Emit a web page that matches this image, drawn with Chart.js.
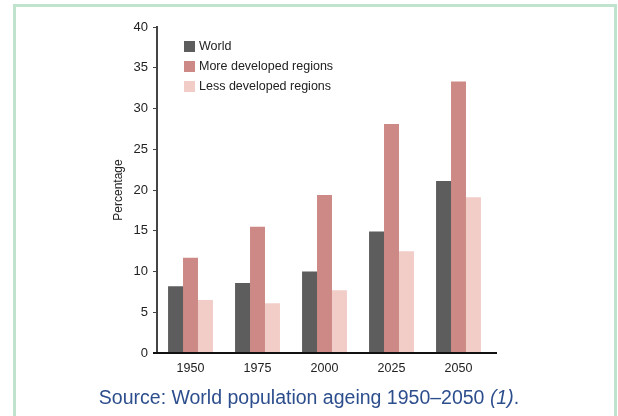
<!DOCTYPE html>
<html lang="en">
<head>
    <meta charset="UTF-8" />
    <title>World population ageing 1950-2050</title>
    <style>
        html, body {
            margin: 0;
            padding: 0;
            background: #fff;
            font-family: "Liberation Sans", Arial, sans-serif;
        }
        #page {
            position: relative;
            width: 618px;
            height: 416px;
            overflow: hidden;
        }
        #frame {
            position: absolute;
            left: 13px;
            top: 4px;
            width: 598px;
            height: 430px;
            border: 3px solid #bfe3cd;
            border-bottom: none;
        }
        #chart-box {
            position: absolute;
            left: 0;
            top: 0;
            width: 618px;
            height: 390px;
        }
        #legend {
            position: absolute;
            left: 184px;
            top: 36px;
            font-size: 12.5px;
            color: #222;
        }
        .item {
            height: 20px;
            display: flex;
            align-items: center;
        }
        .swatch {
            width: 11px;
            height: 11px;
            margin-right: 4px;
        }
        #caption {
            position: absolute;
            left: 0;
            width: 618px;
            top: 386px;
            text-align: center;
            font-size: 19.5px;
            color: #2d4e8d;
        }
    </style>
    <script src="https://cdn.jsdelivr.net/npm/chart.js"></script>
</head>
<body>
<div id="page">
    <div id="frame"></div>
    <div id="chart-box">
        <canvas id="ageChart"></canvas>
    </div>
    <div id="legend"></div>
    <div id="caption">Source: World population ageing 1950–2050 <i>(1)</i>.</div>
</div>

<script>
  const years = ["1950", "1975", "2000", "2025", "2050"];
  const seriesNames = ["World", "More developed regions", "Less developed regions"];
  const world = [8.2, 8.6, 10.0, 14.9, 21.1];
  const moreDeveloped = [11.7, 15.5, 19.4, 28.1, 33.3];
  const lessDeveloped = [6.5, 6.1, 7.7, 12.5, 19.1];
  const colors = ["#5d5d5d", "#cd8985", "#f2cdc8"];

  const values = [world, moreDeveloped, lessDeveloped];

  // legend sits inside the plot, so build it by hand
  const legend = document.getElementById("legend");
  seriesNames.forEach((name, i) => {
    const row = document.createElement("div");
    row.className = "item";
    row.innerHTML = '<span class="swatch" style="background:' + colors[i] + '"></span>' + name;
    legend.appendChild(row);
  });

  // x axis line runs a little past the plot on both sides
  const baseLine = {
    id: "baseLine",
    afterDatasetsDraw(chart) {
      const area = chart.chartArea;
      const y = chart.scales.y.getPixelForValue(0);
      const ctx = chart.ctx;
      ctx.save();
      ctx.strokeStyle = "#111";
      ctx.lineWidth = 2;
      ctx.beginPath();
      ctx.moveTo(area.left - 4, y);
      ctx.lineTo(area.right + 5, y);
      ctx.stroke();
      ctx.restore();
    },
  };

  const ctx = document.getElementById("ageChart").getContext("2d");
  new Chart(ctx, {
    type: "bar",
    data: {
      labels: years,
      datasets: seriesNames.map((name, i) => ({
        label: name,
        data: values[i],
        backgroundColor: colors[i],
        borderWidth: 0,
        categoryPercentage: 0.67,
        barPercentage: 1.0,
      })),
    },
    plugins: [baseLine],
    options: {
      responsive: true,
      maintainAspectRatio: false,
      animation: false,
      layout: {
        padding: { left: 111, right: 126, top: 27, bottom: 0 },
      },
      scales: {
        x: {
          grid: { display: false, drawTicks: false },
          border: { display: false },
          ticks: {
            padding: 8,
            color: "#222",
            font: { family: "Liberation Sans", size: 12.5 },
          },
          afterFit(scale) {
            scale.height = 37;
          },
        },
        y: {
          min: 0,
          max: 40,
          grid: {
            drawOnChartArea: false,
            drawTicks: true,
            tickLength: 4,
            color: "#444",
          },
          border: { display: true, color: "#444", width: 2 },
          ticks: {
            stepSize: 5,
            padding: 5,
            color: "#222",
            font: { family: "Liberation Sans", size: 13 },
          },
          title: {
            display: true,
            text: "Percentage",
            color: "#222",
            padding: { top: 0, bottom: 0 },
            font: { family: "Liberation Sans", size: 12 },
          },
          afterFit(scale) {
            scale.width = 46;
          },
        },
      },
      plugins: {
        legend: { display: false },
        tooltip: { enabled: false },
      },
    },
  });
</script>
</body>
</html>
